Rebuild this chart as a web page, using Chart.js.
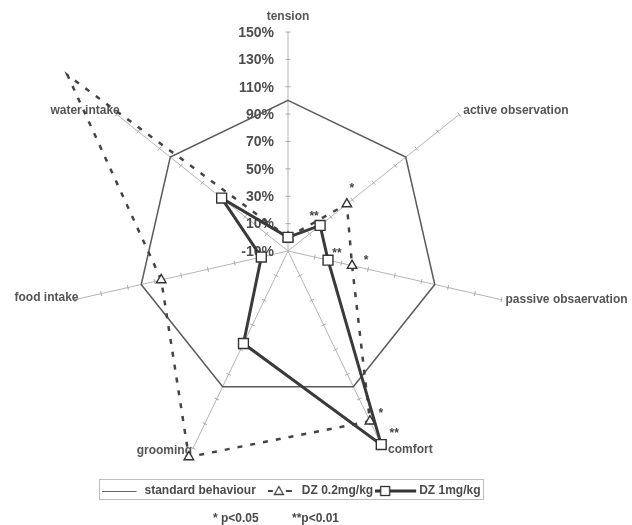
<!DOCTYPE html>
<html>
<head>
<meta charset="utf-8">
<script src="https://cdn.jsdelivr.net/npm/chart.js@4.4.1/dist/chart.umd.min.js"></script>
<style>
  html, body { margin: 0; padding: 0; background: #ffffff; }
  canvas { display: block; }
</style>
</head>
<body>
<canvas id="chart" width="632" height="525"></canvas>
<script>
// Behaviour profile: percentage of standard behaviour on each item
const categories = ['tension', 'active observation', 'passive obsaervation', 'comfort', 'grooming', 'food intake', 'water intake'];
const standardBehaviour = [100, 100, 100, 100, 100, 100, 100];
const dz02 = [0, 45, 38, 128, 157, 85, 196];
const dz1 = [0, 20, 20, 147, 65, 10, 52];
const seriesNames = ['standard behaviour', 'DZ 0.2mg/kg', 'DZ 1mg/kg'];

// Radial axis ticks
const tickValues = [-10, 10, 30, 50, 70, 90, 110, 130, 150];
const tickLabels = ['-10%', '10%', '30%', '50%', '70%', '90%', '110%', '130%', '150%'];

// Significance marks per item
const sigDz02 = ['', '*', '*', '*', '', '', ''];
const sigDz1 = ['', '**', '**', '**', '', '', ''];
const footnotes = ['* p<0.05', '**p<0.01'];

const FONT = '"Liberation Sans", Arial, sans-serif';
const INK = '#4a4a4a';

// Placement of the spoke titles relative to the outer end of each spoke
const spokeLabelStyle = [
  { align: 'center', dx: 0, dy: -15 },
  { align: 'left', dx: 4, dy: -4 },
  { align: 'left', dx: 4, dy: 0 },
  { align: 'left', dx: 5, dy: 1 },
  { align: 'right', dx: -1, dy: 2 },
  { align: 'right', dx: 4, dy: -2 },
  { align: 'right', dx: 3, dy: -4 }
];
// Offsets of the significance marks from their points
const sigOffsetDz02 = [null, [5, -18], [14, -8], [11, -10], null, null, null];
const sigOffsetDz1 = [null, [-6, -12], [9, -9], [13, -14], null, null, null];

// Small legend samples (line + marker)
function makeSample(width, paint) {
  const c = document.createElement('canvas');
  c.width = width; c.height = 14;
  paint(c.getContext('2d'));
  return c;
}
const sampleStandard = makeSample(42, g => {
  g.strokeStyle = '#666'; g.lineWidth = 1;
  g.beginPath(); g.moveTo(0, 7.5); g.lineTo(34, 7.5); g.stroke();
});
const sampleDz02 = makeSample(26, g => {
  g.strokeStyle = '#444'; g.lineWidth = 2;
  g.beginPath(); g.moveTo(0, 7); g.lineTo(5, 7); g.moveTo(18, 7); g.lineTo(24, 7); g.stroke();
  g.lineWidth = 1.3; g.fillStyle = '#fff';
  g.beginPath(); g.moveTo(11, 2.5); g.lineTo(15.5, 10.5); g.lineTo(6.5, 10.5); g.closePath();
  g.fill(); g.stroke();
});
const sampleDz1 = makeSample(46, g => {
  g.strokeStyle = '#333'; g.lineWidth = 3;
  g.beginPath(); g.moveTo(0, 7); g.lineTo(41, 7); g.stroke();
  g.lineWidth = 1.3; g.fillStyle = '#fff';
  g.fillRect(5.5, 2.5, 9, 9); g.strokeRect(5.5, 2.5, 9, 9);
});
const samples = [sampleStandard, sampleDz02, sampleDz1];

const radarDecor = {
  id: 'radarDecor',
  beforeDatasetsDraw(chart) {
    const s = chart.scales.r;
    const ctx = chart.ctx;
    ctx.save();
    // cross ticks along every spoke
    ctx.strokeStyle = '#a8a8a8';
    ctx.lineWidth = 1;
    categories.forEach((_, i) => {
      const a = s.getIndexAngle(i) - Math.PI / 2;
      const px = -Math.sin(a), py = Math.cos(a);
      tickValues.forEach(v => {
        if (v === s.min) return;
        const p = s.getPointPositionForValue(i, v);
        ctx.beginPath();
        ctx.moveTo(p.x - px * 2.5, p.y - py * 2.5);
        ctx.lineTo(p.x + px * 2.5, p.y + py * 2.5);
        ctx.stroke();
      });
    });
    // value labels left of the vertical spoke
    ctx.font = 'bold 14px ' + FONT;
    ctx.fillStyle = '#4d4d4d';
    ctx.textAlign = 'right';
    ctx.textBaseline = 'middle';
    tickValues.forEach((v, k) => {
      const p = s.getPointPositionForValue(0, v);
      ctx.fillText(tickLabels[k], p.x - 14, p.y + 1);
    });
    // spoke titles
    ctx.font = 'bold 12px ' + FONT;
    ctx.fillStyle = '#555';
    categories.forEach((name, i) => {
      const p = s.getPointPositionForValue(i, s.max);
      const st = spokeLabelStyle[i];
      ctx.textAlign = st.align;
      ctx.fillText(name, p.x + st.dx, p.y + st.dy);
    });
    ctx.restore();
  },
  afterDatasetsDraw(chart) {
    const ctx = chart.ctx;
    ctx.save();
    ctx.font = 'bold 12px ' + FONT;
    ctx.fillStyle = '#444';
    ctx.textAlign = 'center';
    ctx.textBaseline = 'middle';
    const put = (dsIndex, marks, offsets) => {
      const meta = chart.getDatasetMeta(dsIndex);
      marks.forEach((m, i) => {
        if (!m) return;
        const pt = meta.data[i];
        ctx.fillText(m, pt.x + offsets[i][0], pt.y + offsets[i][1] + 3);
      });
    };
    put(1, sigDz02, sigOffsetDz02);
    put(2, sigDz1, sigOffsetDz1);
    ctx.restore();
  },
  afterDraw(chart) {
    const ctx = chart.ctx;
    const hb = chart.legend.legendHitBoxes;
    if (hb && hb.length) {
      const first = hb[0], last = hb[hb.length - 1];
      const cy = first.top + first.height / 2;
      ctx.save();
      ctx.strokeStyle = '#bdbdbd';
      ctx.lineWidth = 1;
      ctx.strokeRect(Math.round(first.left - 9) + 0.5, Math.round(cy - 12) + 0.5,
        Math.round(last.left + last.width + 12 - first.left), 20);
      ctx.restore();
    }
    ctx.save();
    ctx.font = 'bold 12px ' + FONT;
    ctx.fillStyle = INK;
    ctx.textAlign = 'left';
    ctx.textBaseline = 'middle';
    ctx.fillText(footnotes[0], 213, 519);
    ctx.fillText(footnotes[1], 292, 519);
    ctx.restore();
  }
};

new Chart(document.getElementById('chart'), {
  type: 'radar',
  data: {
    labels: categories,
    datasets: [
      {
        label: seriesNames[0],
        data: standardBehaviour,
        borderColor: '#5a5a5a',
        borderWidth: 1.5,
        pointRadius: 0,
        fill: false,
        order: 2,
        clip: false
      },
      {
        label: seriesNames[1],
        data: dz02,
        borderColor: '#444444',
        borderWidth: 2.5,
        borderDash: [5, 8],
        pointStyle: 'triangle',
        // the far water-intake end shows no marker
        pointRadius: [5.5, 5.5, 5.5, 5.5, 5.5, 5.5, 0],
        pointBorderWidth: 1.4,
        pointBorderColor: '#333333',
        pointBackgroundColor: '#ffffff',
        fill: false,
        order: 1,
        clip: false
      },
      {
        label: seriesNames[2],
        data: dz1,
        borderColor: '#3a3a3a',
        borderWidth: 3,
        pointStyle: 'rect',
        pointRadius: 7,
        pointBorderWidth: 1.4,
        pointBorderColor: '#333333',
        pointBackgroundColor: '#ffffff',
        fill: false,
        order: 0,
        clip: false
      }
    ]
  },
  options: {
    responsive: false,
    animation: false,
    layout: { padding: { right: 43, bottom: 18 } },
    elements: { line: { tension: 0 } },
    scales: {
      r: {
        min: -10,
        max: 150,
        ticks: { display: false, stepSize: 20 },
        grid: { display: false },
        angleLines: { display: true, color: '#b4b4b4', lineWidth: 1 },
        pointLabels: { display: false },
        afterFit(scale) {
          scale.xCenter = 288;
          scale.yCenter = 251;
          scale.drawingArea = 219;
        }
      }
    },
    plugins: {
      tooltip: { enabled: false },
      legend: {
        position: 'bottom',
        onClick: null,
        labels: {
          usePointStyle: true,
          pointStyleWidth: 30,
          padding: 10,
          color: INK,
          font: { family: FONT, size: 12, weight: 'bold' },
          generateLabels: () => seriesNames.map((name, i) => ({
            text: name,
            pointStyle: samples[i],
            fillStyle: 'transparent',
            strokeStyle: 'transparent',
            lineWidth: 0,
            fontColor: INK,
            hidden: false,
            datasetIndex: i
          }))
        }
      }
    }
  },
  plugins: [radarDecor]
});
</script>
</body>
</html>
